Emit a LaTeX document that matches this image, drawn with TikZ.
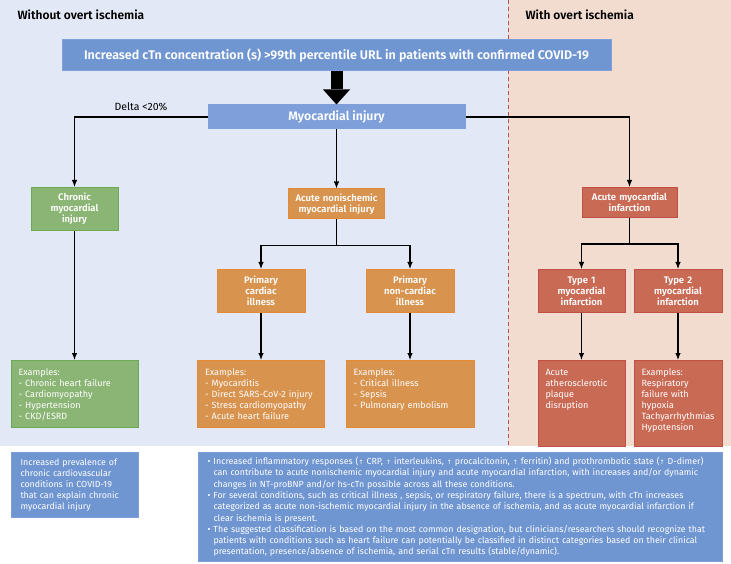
\documentclass[tikz,border=0pt]{standalone}
\usepackage{fontspec}
\setmainfont{Fira Sans}
\newfontfamily\lblfont{Fira Sans SemiBold}
\newfontfamily\sidefont{Fira Sans SemiBold}
\newfontfamily\txtfont{Fira Sans}
\newfontfamily\symfont{DejaVu Sans}
\usetikzlibrary{positioning,arrows.meta}
\tikzset{>=latex}
\definecolor{panelblue}{HTML}{E3E8F7}
\definecolor{panelpink}{HTML}{F2DCD0}
\definecolor{hdrblue}{HTML}{7096D2}
\definecolor{injblue}{HTML}{7E9FDA}
\definecolor{grnfill}{HTML}{8BB574}
\definecolor{grnline}{HTML}{6DAA55}
\definecolor{orgfill}{HTML}{D8934F}
\definecolor{orgline}{HTML}{E38A33}
\definecolor{redfill}{HTML}{C96A55}
\definecolor{redline}{HTML}{C24F45}
\definecolor{dashred}{HTML}{C0504D}
\newcommand{\upar}{{\symfont\fontsize{6}{6}\selectfont ↑}}
\newcommand{\bul}{\makebox[6pt][l]{•}}
\newcommand{\ind}{\hspace*{6pt}}

\begin{document}
\begin{tikzpicture}[x=1pt, y=-1pt, >={Latex[length=7pt,width=5.5pt]},
    conn/.style={draw=black, line width=1.1pt},
    side/.style={anchor=west, font=\sidefont\fontsize{12}{13}\selectfont},
    lbl/.style={rectangle, draw, line width=1pt, text=white, align=center, inner sep=2pt,
      font=\lblfont\fontsize{9.5}{11}\selectfont},
    exbox/.style={rectangle, draw, line width=1pt, text=white, align=left, anchor=north,
      inner xsep=7.5pt, inner ysep=6pt, text height=8.5pt,
      font=\txtfont\fontsize{9.1}{11}\selectfont},
    greenbox/.style={fill=grnfill, draw=grnline},
    orangebox/.style={fill=orgfill, draw=orgline},
    redbox/.style={fill=redfill, draw=redline},
    notebox/.style={rectangle, fill=hdrblue, draw=injblue, line width=1pt, text=white, align=left,
      anchor=north west, inner xsep=9pt, font=\txtfont\fontsize{8.85}{11.3}\selectfont}]
  \useasboundingbox (0,0) rectangle (731,564);
  \fill[panelblue] (0,0) rectangle (508,446);
  \fill[panelpink] (508,0) rectangle (731,446);
  \draw[dashred, line width=1pt, dash pattern=on 4pt off 3pt] (508,0) -- (508,446);

  \node[side] (without) at (14,15) {Without overt ischemia};
  \node[side] (with) at (522,15) {With overt ischemia};

  \node[lbl, fill=hdrblue, draw=injblue, minimum width=549pt, minimum height=31pt,
    font=\lblfont\fontsize{12.5}{13}\selectfont] (cTn) at (336.5,55.5)
    {Increased cTn concentration (s) >99th percentile URL in patients with confirmed COVID-19};
  \node[lbl, fill=injblue, draw=injblue, minimum width=257pt, minimum height=24pt,
    font=\lblfont\fontsize{12.3}{13}\selectfont, below=33pt of cTn] (inj) {Myocardial injury};
  \draw[line width=12pt, -{Triangle[length=15pt,width=27pt,line width=0pt]}] (cTn.south) -- (inj.north);

  \node[lbl, greenbox, text width=83pt, minimum height=43pt, anchor=north] (chronic) at (74.5,187)
    {Chronic\\myocardial\\injury};
  \node[lbl, orangebox, text width=92pt, minimum height=30pt, below=59pt of inj] (acute)
    {Acute nonischemic\\myocardial injury};
  \node[lbl, redbox, text width=91pt, minimum height=30pt, anchor=north] (ami) at (629.5,187)
    {Acute myocardial\\infarction};

  \node[lbl, orangebox, text width=84pt, minimum height=43pt, anchor=north] (cardiac) at (261,269)
    {Primary\\cardiac\\illness};
  \node[lbl, orangebox, text width=84pt, minimum height=43pt, anchor=north] (noncardiac) at (410,269)
    {Primary\\non-cardiac\\illness};
  \node[lbl, redbox, text width=83pt, minimum height=43pt, anchor=north] (type1) at (581.5,269)
    {Type 1\\myocardial\\infarction};
  \node[lbl, redbox, text width=84pt, minimum height=43pt, anchor=north] (type2) at (678,269)
    {Type 2\\myocardial\\infarction};

  \node[exbox, greenbox, text width=112pt, text depth=46.5pt, below=129pt of chronic] (chronicex)
    {Examples:\\- Chronic heart failure\\- Cardiomyopathy\\- Hypertension\\- CKD/ESRD};
  \node[exbox, orangebox, text width=112pt, text depth=46.5pt, below=47pt of cardiac] (cardiacex)
    {Examples:\\- Myocarditis\\- Direct SARS-CoV-2 injury\\- Stress cardiomyopathy\\- Acute heart failure};
  \node[exbox, orangebox, text width=113pt, text depth=46.5pt, below=47pt of noncardiac] (noncardiacex)
    {Examples:\\- Critical illness\\- Sepsis\\- Pulmonary embolism};
  \node[exbox, redbox, text width=72pt, text depth=65.5pt, below=47pt of type1] (type1ex)
    {Acute\\atherosclerotic\\plaque\\disruption};
  \node[exbox, redbox, text width=73pt, text depth=65.5pt, below=47pt of type2] (type2ex)
    {Examples:\\Respiratory\\failure with\\hypoxia\\Tachyarrhythmias\\Hypotension};

  \draw[conn, ->] (inj.west) -| node[pos=0.25, above=2pt, font=\txtfont\fontsize{10.5}{11}\selectfont] {Delta <20\%} (chronic.north);
  \draw[conn, ->] (inj.south) -- (acute.north);
  \draw[conn, ->] (inj.east) -| (ami.north);
  \draw[conn, ->] (acute.south) -- ++(0,26) -| (cardiac.north);
  \draw[conn, ->] (acute.south) -- ++(0,26) -| (noncardiac.north);
  \draw[conn, ->] (ami.south) -- ++(0,26) -| (type1.north);
  \draw[conn, ->] (ami.south) -- ++(0,26) -| (type2.north);
  \draw[conn, ->] (chronic.south) -- (chronicex.north);
  \draw[conn, ->] (cardiac.south) -- (cardiacex.north);
  \draw[conn, ->] (noncardiac.south) -- (noncardiacex.north);
  \draw[conn, ->] (type1.south) -- (type1ex.north);
  \draw[conn, ->] (type2.south) -- (type2ex.north);

  \node[notebox, text width=109pt, minimum height=65pt, font=\txtfont\fontsize{8.85}{11}\selectfont] (prevalence) at (11,452)
    {Increased prevalence of\\chronic cardiovascular\\conditions in COVID-19\\that can explain chronic\\myocardial injury};
  \node[notebox, text width=506pt, minimum height=109pt] (notes) at (198,452)
    {\bul Increased inflammatory responses (\upar{} CRP, \upar{} interleukins, \upar{} procalcitonin, \upar{} ferritin) and prothrombotic state (\upar{} D-dimer)\\
     \ind can contribute to acute nonischemic myocardial injury and acute myocardial infarction, with increases and/or dynamic\\
     \ind changes in NT-proBNP and/or hs-cTn possible across all these conditions.\\
     \bul For several conditions, such as critical illness , sepsis, or respiratory failure, there is a spectrum, with cTn increases\\
     \ind categorized as acute non-ischemic myocardial injury in the absence of ischemia, and as acute myocardial infarction if\\
     \ind clear ischemia is present.\\
     \bul The suggested classification is based on the most common designation, but clinicians/researchers should recognize that\\
     \ind patients with conditions such as heart failure can potentially be classified in distinct categories based on their clinical\\
     \ind presentation, presence/absence of ischemia, and serial cTn results (stable/dynamic).};
\end{tikzpicture}
\end{document}
